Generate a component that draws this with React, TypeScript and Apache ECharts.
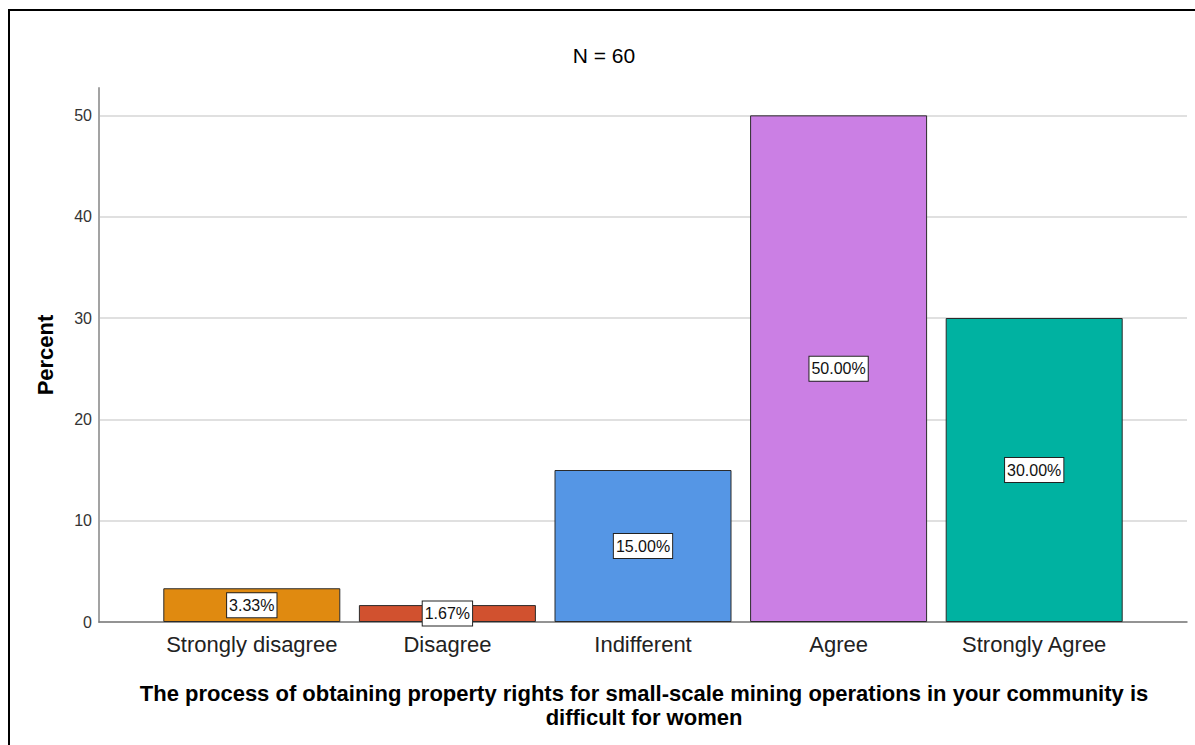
import React, { useEffect, useRef } from "react";
import * as echarts from "echarts";

// Survey responses (percent of N = 60)
const categories = ["Strongly disagree", "Disagree", "Indifferent", "Agree", "Strongly Agree"];
const percents = [3.33, 1.67, 15.0, 50.0, 30.0];
const barColors = ["#E08A10", "#D1512F", "#5596E5", "#CB7FE4", "#00B2A1"];
const yTickStep = 10;
const yMax = 52.7;

const chartTitle = "N = 60";
const yTitle = "Percent";
const xTitle =
  "The process of obtaining property rights for small-scale mining operations in your community is\ndifficult for women";

const FONT = '"Liberation Sans", Arial, Helvetica, sans-serif';

export default function App() {
  const ref = useRef<HTMLDivElement>(null);

  useEffect(() => {
    if (!ref.current) return;
    const chart = echarts.init(ref.current, null, { renderer: "svg" });

    const option = {
      animation: false,
      backgroundColor: "#ffffff",
      textStyle: { fontFamily: FONT },
      grid: [
        // frame grid: holds the value axis, gridlines and baseline
        { left: 99, right: 8, top: 88, bottom: 123 },
        // bar grid: inset so the bars sit away from the axis
        { left: 154, right: 63, top: 88, bottom: 123 },
      ],
      xAxis: [
        {
          type: "value",
          gridIndex: 0,
          min: 0,
          max: 1,
          axisLine: { show: true, lineStyle: { color: "#7a7a7a", width: 1.5 } },
          axisTick: { show: false },
          axisLabel: { show: false },
          splitLine: { show: false },
        },
        {
          type: "category",
          gridIndex: 1,
          data: categories,
          axisLine: { show: false },
          axisTick: { show: false },
          axisLabel: {
            interval: 0,
            fontSize: 22,
            color: "#222",
            margin: 11,
            fontFamily: FONT,
          },
        },
      ],
      yAxis: [
        {
          type: "value",
          gridIndex: 0,
          min: 0,
          max: yMax,
          interval: yTickStep,
          axisLine: { show: true, lineStyle: { color: "#a3a3a3", width: 2 } },
          axisTick: { show: false },
          axisLabel: {
            fontSize: 16,
            color: "#333",
            margin: 7,
            showMaxLabel: false,
            formatter: (v: number) => (v % yTickStep === 0 ? String(v) : ""),
          },
          splitLine: {
            show: true,
            showMaxLine: false,
            lineStyle: { color: "#d6d6d6", width: 1.5 },
          },
        },
        {
          type: "value",
          gridIndex: 1,
          min: 0,
          max: yMax,
          show: false,
          splitLine: { show: false },
        },
      ],
      series: [
        {
          type: "bar",
          xAxisIndex: 1,
          yAxisIndex: 1,
          barWidth: 177,
          data: percents.map((v, i) => ({
            value: v,
            itemStyle: { color: barColors[i] },
          })),
          itemStyle: { borderColor: "#2b2b2b", borderWidth: 1 },
          label: {
            show: true,
            position: "inside",
            formatter: (p: any) => `${Number(p.value).toFixed(2)}%`,
            fontSize: 16,
            color: "#111",
            fontFamily: FONT,
            backgroundColor: "#ffffff",
            borderColor: "#222",
            borderWidth: 1,
            padding: [4, 2, 4, 2],
          },
        },
      ],
      graphic: [
        {
          type: "rect",
          silent: true,
          shape: { x: 9, y: 10, width: 1400, height: 900 },
          style: { fill: "none", stroke: "#000", lineWidth: 2 },
        },
        {
          type: "text",
          x: 604,
          y: 55,
          style: {
            text: chartTitle,
            fontSize: 21,
            fill: "#000",
            fontFamily: FONT,
            align: "center",
            verticalAlign: "middle",
          },
        },
        {
          type: "text",
          x: 45,
          y: 355,
          rotation: Math.PI / 2,
          style: {
            text: yTitle,
            fontSize: 22,
            fontWeight: "bold",
            fill: "#000",
            fontFamily: FONT,
            align: "center",
            verticalAlign: "middle",
          },
        },
        {
          type: "text",
          x: 644,
          y: 705,
          style: {
            text: xTitle,
            fontSize: 22,
            lineHeight: 24,
            fontWeight: "bold",
            fill: "#000",
            fontFamily: FONT,
            align: "center",
            verticalAlign: "middle",
          },
        },
      ],
    };

    chart.setOption(option as any);
    return () => chart.dispose();
  }, []);

  return (
    <div
      ref={ref}
      style={{ position: "fixed", left: 0, top: 0, width: 1195, height: 745 }}
    />
  );
}
